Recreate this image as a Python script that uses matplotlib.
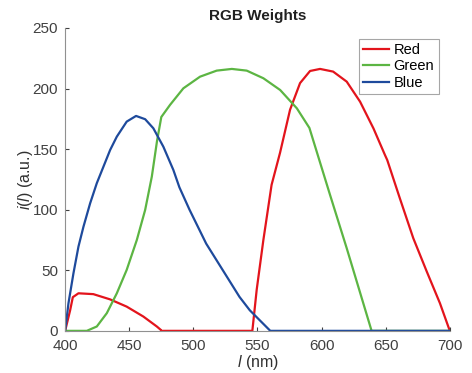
# RGB weights versus wavelength

import matplotlib.pyplot as plt

plt.rcParams['font.family'] = ['Liberation Sans', 'DejaVu Sans']
plt.rcParams['mathtext.fontset'] = 'custom'
plt.rcParams['mathtext.it'] = 'Liberation Sans:italic'
plt.rcParams['mathtext.rm'] = 'Liberation Sans'

# wavelength (nm) and weights
red_l = [400, 403.9, 406, 410.4, 422, 435, 448, 461, 471.5, 474.6, 475,
         546, 549.4, 554.6, 561, 567.6, 575.4, 583.2, 591, 598.8, 609,
         619.6, 630, 640.5, 649.4, 651.2, 661, 671.5, 682, 692.3, 700]
red_w = [0, 17, 27.8, 31, 30.3, 26, 20, 11.8, 3.6, 0.8, 0,
         0, 34, 75, 120.5, 147, 182.5, 204.5, 214.5, 216.2, 214,
         205.7, 189.2, 167, 145.2, 141, 109.5, 76.5, 49, 22.8, 0]

green_l = [400, 416.9, 424.7, 432.5, 440.3, 448, 455.9, 462.4, 467.6,
           471.7, 475, 481.8, 492.2, 505.2, 518.2, 530, 541.6, 554.6,
           567.7, 580.7, 590.5, 606.6, 619.6, 639, 700]
green_w = [0, 0, 3.6, 14.6, 31, 50.3, 75, 99.8, 127.3,
           157, 176.5, 186.5, 200.2, 209.8, 214.8, 216.2, 214.8, 208.5,
           198.8, 183.7, 167.5, 112.2, 68.2, 0, 0]

blue_l = [400, 402.6, 406.5, 410.4, 414.3, 419.5, 424.7, 429.9, 435.1,
          440.3, 448, 455.3, 462.4, 468.8, 476.6, 484.4, 489.1, 497,
          510, 523, 536, 544, 560, 700]
blue_w = [0, 22.8, 47.6, 69.6, 86, 105.3, 121.9, 135.6, 149.3,
          160.3, 172.7, 177.4, 174.7, 167.2, 152, 132.8, 118.5, 100,
          72, 50, 28, 17, 0, 0]

fig = plt.figure(figsize=(4.72, 3.73), dpi=100)
ax = fig.add_axes([0.138, 0.113, 0.815, 0.812])

ax.plot(red_l, red_w, color='#e3141c', lw=1.6, label='Red')
ax.plot(green_l, green_w, color='#5cb543', lw=1.6, label='Green')
ax.plot(blue_l, blue_w, color='#1e4a9c', lw=1.6, label='Blue')

ax.set_xlim(400, 700)
ax.set_ylim(0, 250)
ax.set_xticks([400, 450, 500, 550, 600, 650, 700])
ax.set_yticks([0, 50, 100, 150, 200, 250])
ax.tick_params(direction='in', length=3, colors='#404040', labelsize=11)
ax.tick_params(axis='x', pad=6)
ax.tick_params(axis='y', pad=5)
for s in ['top', 'right']:
    ax.spines[s].set_visible(False)
for s in ['left', 'bottom']:
    ax.spines[s].set_color('#909090')

ax.set_xlabel(r'$l$ (nm)', fontsize=11.5, color='#303030', labelpad=0)
ax.set_ylabel(r'$i$($l$) (a.u.)', fontsize=11.5, color='#303030', labelpad=-2)
ax.set_title('RGB Weights', fontsize=11, fontweight='bold', color='#202020')

leg = ax.legend(loc='upper right', fontsize=10.5, frameon=True, fancybox=False,
                edgecolor='#909090', handlelength=1.8, borderpad=0.3,
                labelspacing=0.15, handletextpad=0.3, borderaxespad=0,
                bbox_to_anchor=(0.971, 0.964))
leg.get_frame().set_linewidth(0.8)

plt.savefig('out.png', dpi=100)
